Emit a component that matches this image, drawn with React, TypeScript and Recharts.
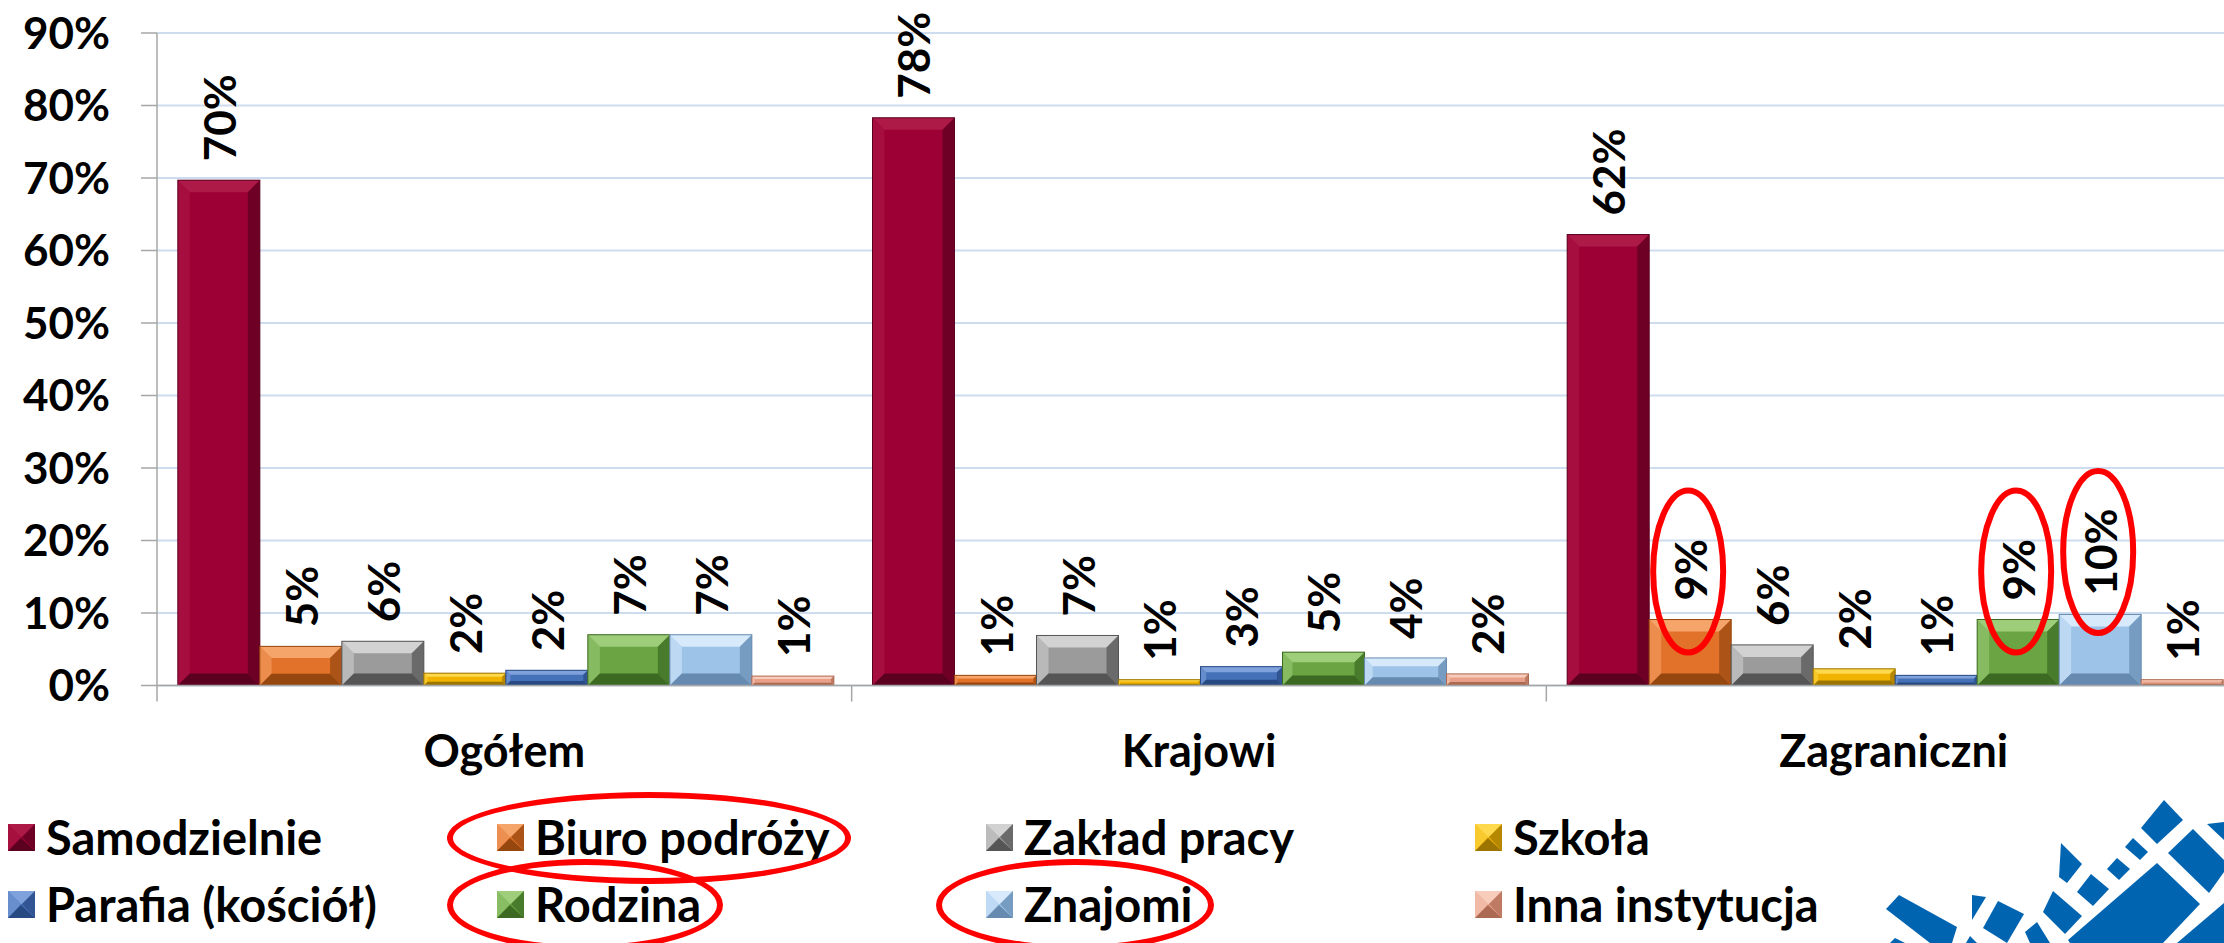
import React from 'react';
import { BarChart, Bar, XAxis, YAxis, CartesianGrid, LabelList } from 'recharts';

const CATEGORIES = ['Ogółem', 'Krajowi', 'Zagraniczni'];
const SERIES = [
  'Samodzielnie',
  'Biuro podróży',
  'Zakład pracy',
  'Szkoła',
  'Parafia (kościół)',
  'Rodzina',
  'Znajomi',
  'Inna instytucja',
];

// values in %, per category (Ogółem, Krajowi, Zagraniczni)
const SAMODZIELNIE = [69.7, 78.3, 62.2];
const BIURO = [5.4, 1.4, 9.1];
const ZAKLAD = [6.1, 6.9, 5.6];
const SZKOLA = [1.7, 0.8, 2.3];
const PARAFIA = [2.1, 2.6, 1.4];
const RODZINA = [7.0, 4.6, 9.1];
const ZNAJOMI = [7.0, 3.8, 9.8];
const INNA = [1.3, 1.6, 0.8];

const SERIES_VALUES = [SAMODZIELNIE, BIURO, ZAKLAD, SZKOLA, PARAFIA, RODZINA, ZNAJOMI, INNA];

const Y_TICKS = [0, 10, 20, 30, 40, 50, 60, 70, 80, 90];

// red hand-drawn circles on the slide
const HIGHLIGHT_LABELS = [
  { series: 'Biuro podróży', category: 'Zagraniczni' },
  { series: 'Rodzina', category: 'Zagraniczni' },
  { series: 'Znajomi', category: 'Zagraniczni' },
];
const HIGHLIGHT_LEGEND = ['Biuro podróży', 'Rodzina', 'Znajomi'];

const PALETTE = [
  { main: '#9c0034', light: '#ad1a48', dark: '#5c0020' },
  { main: '#e2722a', light: '#f5a46a', dark: '#96470f' },
  { main: '#9b9b9b', light: '#d2d2d2', dark: '#555555' },
  { main: '#f0b400', light: '#ffd94d', dark: '#9c7400' },
  { main: '#4571b9', light: '#80a2dc', dark: '#284a82' },
  { main: '#6aa443', light: '#9fce7a', dark: '#3c6a22' },
  { main: '#9dc3e8', light: '#d6eafb', dark: '#678bb0' },
  { main: '#e8a088', light: '#f7ccba', dark: '#ad6a52' },
];

const FONT = 'Lato, "Open Sans", sans-serif';

const data = CATEGORIES.map((name, ci) => {
  const row: Record<string, any> = { name };
  SERIES.forEach((s, si) => {
    row[s] = SERIES_VALUES[si][ci];
  });
  return row;
});

const LOGO_SHAPES = [
  '1886,909 1899,895 1957,927 1952,943 1930,943',
  '1972,895 1986,897 1972,920',
  '1998,901 2024,914 2007,943 1983,928',
  '2053,891 2082,916 2065,934 2043,912',
  '2061,843 2082,864 2067,883 2059,877',
  '2091,874 2109,889 2093,906 2077,892',
  '2117,858 2130,869 2119,880 2107,869',
  '2133,838 2148,852 2140,860 2125,847',
  '2164,800 2183,820 2157,844 2141,828',
  '2193,829 2224,860 2224,872 2209,893 2168,853',
  '2207,824 2224,822 2224,840',
  '2157,863 2200,904 2163,943 2070,943 2068,940',
  '2224,903 2177,943 2224,943',
  '2025,932 2037,922 2050,943 2030,943',
  '1890,943 1895,938 1905,943',
  '1966,943 1970,936 1977,943',
];

const BevelBar = (props: any) => {
  const { x, y, width, height, pal } = props;
  if (!width || height == null || height <= 0) return null;
  const w = width;
  const h = height;
  if (h < 5) {
    return <rect x={x} y={y} width={w} height={h} fill={pal.main} stroke={pal.dark} strokeWidth={0.8} />;
  }
  const b = Math.min(12, h * 0.3, w / 4);
  return (
    <g>
      <rect x={x} y={y} width={w} height={h} fill={pal.main} />
      <polygon points={`${x},${y} ${x + w},${y} ${x + w - b},${y + b} ${x + b},${y + b}`} fill={pal.light} />
      <polygon
        points={`${x},${y} ${x + b},${y + b} ${x + b},${y + h - b} ${x},${y + h}`}
        fill={pal.light}
        opacity={0.55}
      />
      <polygon
        points={`${x + w},${y} ${x + w},${y + h} ${x + w - b},${y + h - b} ${x + w - b},${y + b}`}
        fill={pal.dark}
        opacity={0.7}
      />
      <polygon
        points={`${x},${y + h} ${x + w},${y + h} ${x + w - b},${y + h - b} ${x + b},${y + h - b}`}
        fill={pal.dark}
      />
      <rect x={x} y={y} width={w} height={h} fill="none" stroke={pal.dark} strokeWidth={1} />
    </g>
  );
};

const makeLabel = (seriesName: string) => (props: any) => {
  const { x, y, width, value, index } = props;
  if (value == null) return null;
  const text = `${Math.round(value)}%`;
  const cx = x + width / 2;
  const y0 = y - 19;
  const category = CATEGORIES[index];
  const hl = HIGHLIGHT_LABELS.some((h) => h.series === seriesName && h.category === category);
  const len = text.length * 29;
  return (
    <g>
      <text
        x={cx}
        y={y0}
        transform={`rotate(-90, ${cx}, ${y0})`}
        textAnchor="start"
        dominantBaseline="central"
        fontFamily={FONT}
        fontWeight={700}
        fontSize={44}
        fill="#000"
      >
        {text}
      </text>
      {hl && (
        <ellipse cx={cx - 2} cy={y0 - len / 2} rx={35} ry={81} fill="none" stroke="#ff0000" strokeWidth={6} />
      )}
    </g>
  );
};

const CategoryTick = (props: any) => {
  const { x, y, payload, index, visibleTicksCount, width } = props;
  const half = payload && payload.offset ? payload.offset : width / visibleTicksCount / 2;
  return (
    <g>
      <line x1={x - half} y1={y} x2={x - half} y2={y + 16} stroke="#a6a6a6" strokeWidth={1.5} />
      {index === visibleTicksCount - 1 && (
        <line x1={x + half} y1={y} x2={x + half} y2={y + 16} stroke="#a6a6a6" strokeWidth={1.5} />
      )}
      <text
        x={x}
        y={y + 64}
        textAnchor="middle"
        dominantBaseline="central"
        fontFamily={FONT}
        fontWeight={700}
        fontSize={45}
        fill="#000"
      >
        {payload.value}
      </text>
    </g>
  );
};

const LegendMarker = ({ pal }: { pal: any }) => {
  const s = 27;
  const b = 13;
  return (
    <svg width={s} height={s} style={{ display: 'block', flex: 'none' }}>
      <rect x={0} y={0} width={s} height={s} fill={pal.main} />
      <polygon points={`0,0 ${s},0 ${s - b},${b} ${b},${b}`} fill={pal.light} />
      <polygon points={`0,0 ${b},${b} 0,${s}`} fill={pal.light} opacity={0.6} />
      <polygon points={`${s},0 ${s},${s} ${s - b},${b}`} fill={pal.dark} opacity={0.7} />
      <polygon points={`0,${s} ${s},${s} ${b},${s - b}`} fill={pal.dark} />
    </svg>
  );
};

const ChartLegend = () => (
  <div
    style={{
      position: 'absolute',
      left: 8,
      top: 804,
      display: 'grid',
      gridTemplateColumns: 'repeat(4, 489px)',
      gridAutoRows: '67px',
      fontFamily: FONT,
      fontWeight: 700,
      fontSize: 47,
      color: '#000',
    }}
  >
    {SERIES.map((s, i) => (
      <div key={s} style={{ display: 'flex', alignItems: 'center' }}>
        <div style={{ position: 'relative', display: 'inline-flex', alignItems: 'center', gap: 11 }}>
          <LegendMarker pal={PALETTE[i]} />
          <span style={{ lineHeight: 1, whiteSpace: 'nowrap' }}>{s}</span>
          {HIGHLIGHT_LEGEND.includes(s) && (
            <div
              style={{
                position: 'absolute',
                left: -50,
                right: -22,
                top: 'calc(50% - 46px)',
                height: 92,
                border: '6px solid #ff0000',
                borderRadius: '50%',
                boxSizing: 'border-box',
              }}
            />
          )}
        </div>
      </div>
    ))}
  </div>
);

export default function App() {
  return (
    <div
      style={{
        position: 'absolute',
        left: 0,
        top: 0,
        width: 2224,
        height: 943,
        overflow: 'hidden',
        background: '#fff',
        fontFamily: FONT,
      }}
    >
      <BarChart
        width={2260}
        height={800}
        data={data}
        margin={{ top: 33, right: 19, left: 0, bottom: 54.5 }}
        barCategoryGap="3%"
        barGap={0}
      >
        <CartesianGrid vertical={false} stroke="#cddcee" strokeWidth={2} />
        <XAxis
          dataKey="name"
          height={60}
          tickSize={0}
          tickMargin={0}
          tickLine={false}
          axisLine={{ stroke: '#a6a6a6', strokeWidth: 1.5 }}
          tick={<CategoryTick />}
          interval={0}
        />
        <YAxis
          width={157}
          domain={[0, 90]}
          ticks={Y_TICKS}
          interval={0}
          tickSize={16}
          tickMargin={31}
          tickFormatter={(v: number) => `${v}%`}
          axisLine={{ stroke: '#a6a6a6', strokeWidth: 1.5 }}
          tickLine={{ stroke: '#a6a6a6', strokeWidth: 1.5 }}
          tick={{ fontFamily: FONT, fontWeight: 700, fontSize: 44, fill: '#000' }}
        />
        {SERIES.map((s, i) => (
          <Bar
            key={s}
            dataKey={s}
            fill={PALETTE[i].main}
            isAnimationActive={false}
            shape={(p: any) => <BevelBar {...p} pal={PALETTE[i]} />}
          >
            <LabelList dataKey={s} content={makeLabel(s)} />
          </Bar>
        ))}
      </BarChart>
      <ChartLegend />
      <svg
        width={2224}
        height={943}
        style={{ position: 'absolute', left: 0, top: 0, pointerEvents: 'none' }}
      >
        {LOGO_SHAPES.map((pts, i) => (
          <polygon key={i} points={pts} fill="#0064b1" />
        ))}
      </svg>
    </div>
  );
}
